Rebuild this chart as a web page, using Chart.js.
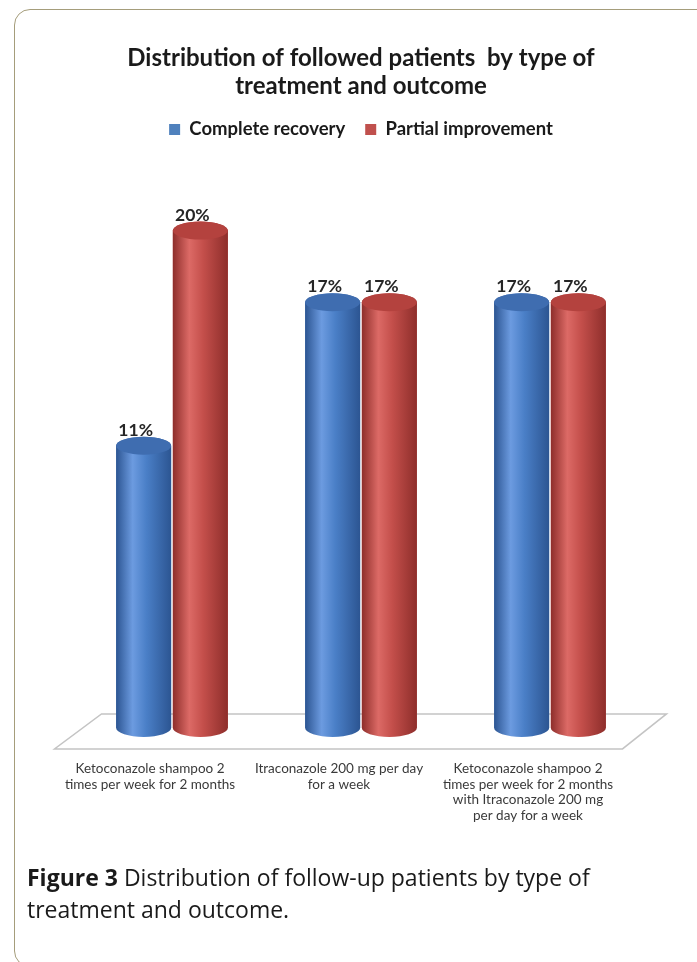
<!DOCTYPE html>
<html>
<head>
<meta charset="utf-8">
<script src="https://cdn.jsdelivr.net/npm/chart.js"></script>
<style>
  html, body { margin: 0; padding: 0; background: #fff; }
  body { width: 697px; height: 962px; position: relative; overflow: hidden; }
  .frame {
    position: absolute; left: 14px; top: 9px; width: 720px; height: 958px;
    border: 1.5px solid #a59d7b; border-radius: 16px; box-sizing: border-box;
  }
  .chart-box { position: absolute; left: 0; top: 0; width: 697px; height: 871px; }
  .caption {
    position: absolute; left: 27px; top: 861px; width: 640px; margin: 0;
    font-family: 'Open Sans', sans-serif; font-size: 23px; line-height: 32px; color: #1a1a1a;
  }
</style>
</head>
<body>
<div class="frame"></div>
<div class="chart-box"><canvas id="chart" width="697" height="871"></canvas></div>
<p class="caption"><b>Figure 3</b> Distribution of follow-up patients by type of<br>treatment and outcome.</p>
<script>
// chart data
const categories = [
    ['Ketoconazole shampoo 2', 'times per week for 2 months'],
    ['Itraconazole 200 mg per day', 'for a week'],
    ['Ketoconazole shampoo 2', 'times per week for 2 months', 'with Itraconazole 200 mg', 'per day for a week']
];
const completeRecovery = [11, 17, 17];
const partialImprovement = [20, 17, 17];
const seriesNames = ['Complete recovery', 'Partial improvement'];
const titleLines = ['Distribution of followed patients  by type of', 'treatment and outcome'];

const FONT = "Lato, 'Open Sans', sans-serif";

// extra room between the legend and the bars
const legendSpacer = {
    id: 'legendSpacer',
    beforeInit(chart) {
        const fit = chart.legend.fit;
        chart.legend.fit = function() {
            fit.bind(chart.legend)();
            this.height += 58;
        };
    }
};

/**
 * Draws the floor plane and turns every bar into a cylinder
 */
const cylinderPlugin = {
    id: 'cylinders',
    beforeDatasetsDraw(chart) {
        const ctx = chart.ctx;
        const a = chart.chartArea;
        ctx.save();
        ctx.beginPath();
        ctx.moveTo(a.left + 24, a.bottom - 14);
        ctx.lineTo(a.right + 22, a.bottom - 14);
        ctx.lineTo(a.right - 22, a.bottom + 21);
        ctx.lineTo(a.left - 23, a.bottom + 21);
        ctx.closePath();
        ctx.fillStyle = '#ffffff';
        ctx.fill();
        ctx.strokeStyle = '#c4c4c4';
        ctx.lineWidth = 1.5;
        ctx.stroke();
        ctx.restore();
    },
    afterDatasetsDraw(chart) {
        const ctx = chart.ctx;
        const shades = [
            {dark: '#2c5592', mid: '#4a7fc7', light: '#6c9be0', top: '#3f6db0'},
            {dark: '#8e2e2b', mid: '#c44f4b', light: '#dc6a66', top: '#b4423e'}
        ];
        chart.data.datasets.forEach((ds, di) => {
            const meta = chart.getDatasetMeta(di);
            const c = shades[di];
            meta.data.forEach((bar, i) => {
                const p = bar.getProps(['x', 'y', 'width', 'base'], true);
                const left = p.x - p.width / 2;
                const right = p.x + p.width / 2;
                const rx = p.width / 2;
                const ry = 9;

                const g = ctx.createLinearGradient(left, 0, right, 0);
                g.addColorStop(0, c.dark);
                g.addColorStop(0.3, c.light);
                g.addColorStop(0.55, c.mid);
                g.addColorStop(1, c.dark);

                ctx.save();
                ctx.beginPath();
                ctx.moveTo(left, p.y);
                ctx.lineTo(left, p.base);
                ctx.ellipse(p.x, p.base, rx, ry, 0, Math.PI, 0, true);
                ctx.lineTo(right, p.y);
                ctx.ellipse(p.x, p.y, rx, ry, 0, 0, Math.PI, true);
                ctx.closePath();
                ctx.fillStyle = g;
                ctx.fill();

                ctx.beginPath();
                ctx.ellipse(p.x, p.y, rx, ry, 0, 0, Math.PI * 2);
                ctx.fillStyle = c.top;
                ctx.fill();

                // value label
                ctx.font = 'bold 17.5px ' + FONT;
                ctx.fillStyle = '#262626';
                ctx.textAlign = 'center';
                ctx.textBaseline = 'alphabetic';
                ctx.fillText(ds.data[i] + '%', p.x - 8, p.y - ry - 1);
                ctx.restore();
            });
        });
    }
};

function initChart() {
    const ctx = document.getElementById('chart');
    new Chart(ctx, {
        type: 'bar',
        data: {
            labels: categories,
            datasets: [{
                label: seriesNames[0],
                data: completeRecovery,
                backgroundColor: '#4f81bd',
                base: -0.8
            }, {
                label: seriesNames[1],
                data: partialImprovement,
                backgroundColor: '#c0504d',
                base: -0.8
            }]
        },
        options: {
            responsive: false,
            animation: false,
            layout: {
                padding: {left: 77.5, right: 52.5, top: 0, bottom: 15}
            },
            categoryPercentage: 0.6,
            barPercentage: 0.97,
            plugins: {
                title: {
                    display: true,
                    text: titleLines,
                    color: '#1a1a1a',
                    font: {family: FONT, size: 24, weight: 'bold', lineHeight: 1.17},
                    padding: {top: 44, bottom: 0}
                },
                legend: {
                    display: true,
                    labels: {
                        color: '#1a1a1a',
                        font: {family: FONT, size: 18.5, weight: 'bold'},
                        boxWidth: 11,
                        boxHeight: 11,
                        padding: 20
                    }
                },
                tooltip: {enabled: false}
            },
            scales: {
                x: {
                    grid: {display: false, drawTicks: false},
                    border: {display: false},
                    ticks: {
                        color: '#3a3a3a',
                        font: {family: FONT, size: 13.5, lineHeight: 1.15},
                        padding: 33,
                        labelOffset: -22,
                        maxRotation: 0,
                        autoSkip: false
                    }
                },
                y: {
                    display: false,
                    min: -0.8,
                    max: 21
                }
            }
        },
        plugins: [legendSpacer, cylinderPlugin]
    });
}

if (typeof Chart === 'undefined') {
    document.addEventListener('DOMContentLoaded', initChart);
} else {
    initChart();
}
</script>
</body>
</html>
